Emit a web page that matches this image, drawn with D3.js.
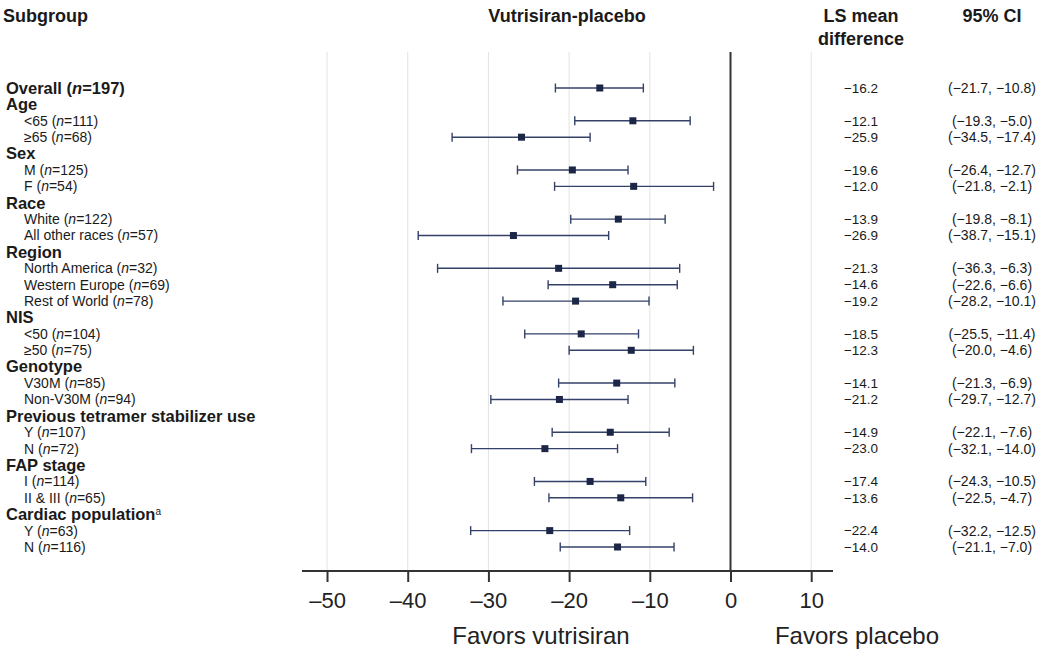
<!DOCTYPE html>
<html><head><meta charset="utf-8">
<script src="https://cdn.jsdelivr.net/npm/d3@7"></script>
<style>
body{margin:0;background:#fff;}
svg{display:block;font-family:"Liberation Sans",Arial,sans-serif;}
</style></head><body>
<div id="chart"></div>
<script>
const labels = ["Overall","Age","<65","≥65","Sex","M","F","Race","White","All other races","Region","North America","Western Europe","Rest of World","NIS","<50","≥50","Genotype","V30M","Non-V30M","Previous tetramer stabilizer use","Y","N","FAP stage","I","II & III","Cardiac population","Y","N"];
const rowTypes = ["hs","h","s","s","h","s","s","h","s","s","h","s","s","s","h","s","s","h","s","s","h","s","s","h","s","s","h","s","s"];
const nValues = [197,null,111,68,null,125,54,null,122,57,null,32,69,78,null,104,75,null,85,94,null,107,72,null,114,65,null,63,116];
const estimates = [-16.2,null,-12.1,-25.9,null,-19.6,-12.0,null,-13.9,-26.9,null,-21.3,-14.6,-19.2,null,-18.5,-12.3,null,-14.1,-21.2,null,-14.9,-23.0,null,-17.4,-13.6,null,-22.4,-14.0];
const ciLow = [-21.7,null,-19.3,-34.5,null,-26.4,-21.8,null,-19.8,-38.7,null,-36.3,-22.6,-28.2,null,-25.5,-20.0,null,-21.3,-29.7,null,-22.1,-32.1,null,-24.3,-22.5,null,-32.2,-21.1];
const ciHigh = [-10.8,null,-5.0,-17.4,null,-12.7,-2.1,null,-8.1,-15.1,null,-6.3,-6.6,-10.1,null,-11.4,-4.6,null,-6.9,-12.7,null,-7.6,-14.0,null,-10.5,-4.7,null,-12.5,-7.0];
const xTicks = [-50,-40,-30,-20,-10,0,10];

const W = 1050, H = 657;
const svg = d3.select("#chart").append("svg").attr("width", W).attr("height", H);
const x = d3.scaleLinear().domain([-53.1, 12.7]).range([302, 833]);
const y = d3.scaleLinear().domain([0, labels.length - 1]).range([88, 547]);
const plotTop = 52, axisY = 571;
const txt = "#1a1a1a";
const fmt = v => (v < 0 ? "\u2212" : "") + Math.abs(v).toFixed(1);

// gridlines
svg.append("g").selectAll("line").data(xTicks.filter(d => d !== 0)).join("line")
  .attr("x1", d => x(d)).attr("x2", d => x(d))
  .attr("y1", plotTop).attr("y2", axisY)
  .attr("stroke", "#e3e3e3").attr("stroke-width", 1);

// axis
const axis = d3.axisBottom(x).tickValues(xTicks).tickSize(11).tickPadding(10)
  .tickFormat(d => d < 0 ? "\u2013" + Math.abs(d) : d);
const ag = svg.append("g").attr("transform", `translate(0,${axisY})`).call(axis);
ag.select(".domain").attr("d", `M${x.range()[0]},0H${x.range()[1]}`).attr("stroke", "#333").attr("stroke-width", 2);
ag.selectAll(".tick line").attr("stroke", "#333").attr("stroke-width", 2);
ag.selectAll(".tick text").attr("fill", "#222").style("font-size", "22px").style("font-family", "'Liberation Sans',Arial,sans-serif");

// zero line
svg.append("line").attr("x1", x(0)).attr("x2", x(0)).attr("y1", plotTop).attr("y2", axisY)
  .attr("stroke", "#333").attr("stroke-width", 2);

// header
const hdr = svg.append("g").attr("fill", txt).style("font-weight", "bold").style("font-size", "18px");
hdr.append("text").attr("x", 3).attr("y", 22).text("Subgroup");
hdr.append("text").attr("x", 567).attr("y", 22).attr("text-anchor", "middle").text("Vutrisiran-placebo");
hdr.append("text").attr("x", 861).attr("y", 22).attr("text-anchor", "middle").text("LS mean");
hdr.append("text").attr("x", 861).attr("y", 45).attr("text-anchor", "middle").text("difference");
hdr.append("text").attr("x", 992).attr("y", 22).attr("text-anchor", "middle").text("95% CI");

// row labels
const rows = labels.map((l, i) => ({ i, label: l, type: rowTypes[i], n: nValues[i], est: estimates[i], lo: ciLow[i], hi: ciHigh[i] }));
const lg = svg.append("g").attr("fill", txt);
rows.forEach(r => {
  const isH = r.type !== "s";
  const t = lg.append("text").attr("x", isH ? 6 : 24).attr("y", y(r.i)).attr("dy", "0.35em")
    .style("font-size", isH ? "16.5px" : "14px").style("font-weight", isH ? "bold" : "normal");
  t.append("tspan").text(r.label);
  if (r.n != null) {
    t.append("tspan").text(" (");
    t.append("tspan").style("font-style", "italic").text("n");
    t.append("tspan").text("=" + r.n + ")");
  }
  if (r.label === "Cardiac population") {
    t.append("tspan").attr("dy", "-0.5em").style("font-size", "10px").style("font-weight", "normal").text("a");
  }
});

// CI rows
const data = rows.filter(r => r.est != null);
const g = svg.append("g");
g.selectAll("line.ci").data(data).join("line").attr("class", "ci")
  .attr("x1", d => x(d.lo)).attr("x2", d => x(d.hi)).attr("y1", d => y(d.i)).attr("y2", d => y(d.i))
  .attr("stroke", "#34426a").attr("stroke-width", 1.4);
["lo", "hi"].forEach(k => {
  g.selectAll("line.cap" + k).data(data).join("line").attr("class", "cap" + k)
    .attr("x1", d => x(d[k])).attr("x2", d => x(d[k])).attr("y1", d => y(d.i) - 4.5).attr("y2", d => y(d.i) + 4.5)
    .attr("stroke", "#34426a").attr("stroke-width", 1.4);
});
g.selectAll("rect").data(data).join("rect")
  .attr("x", d => x(d.est) - 3.5).attr("y", d => y(d.i) - 3.5).attr("width", 7).attr("height", 7)
  .attr("fill", "#1c2748");

// right columns
const rg = svg.append("g").attr("fill", txt);
rg.selectAll("text.est").data(data).join("text").attr("class", "est")
  .attr("x", 861).attr("y", d => y(d.i)).attr("dy", "0.35em").attr("text-anchor", "middle")
  .style("font-size", "13.5px").text(d => fmt(d.est));
rg.selectAll("text.ci").data(data).join("text").attr("class", "ci")
  .attr("x", 992).attr("y", d => y(d.i)).attr("dy", "0.35em").attr("text-anchor", "middle")
  .style("font-size", "14px").text(d => `(${fmt(d.lo)}, ${fmt(d.hi)})`);

// favors labels
const fg = svg.append("g").attr("fill", "#222").style("font-size", "24px").attr("text-anchor", "middle");
fg.append("text").attr("x", 541).attr("y", 644).text("Favors vutrisiran");
fg.append("text").attr("x", 857).attr("y", 644).text("Favors placebo");
</script></body></html>
